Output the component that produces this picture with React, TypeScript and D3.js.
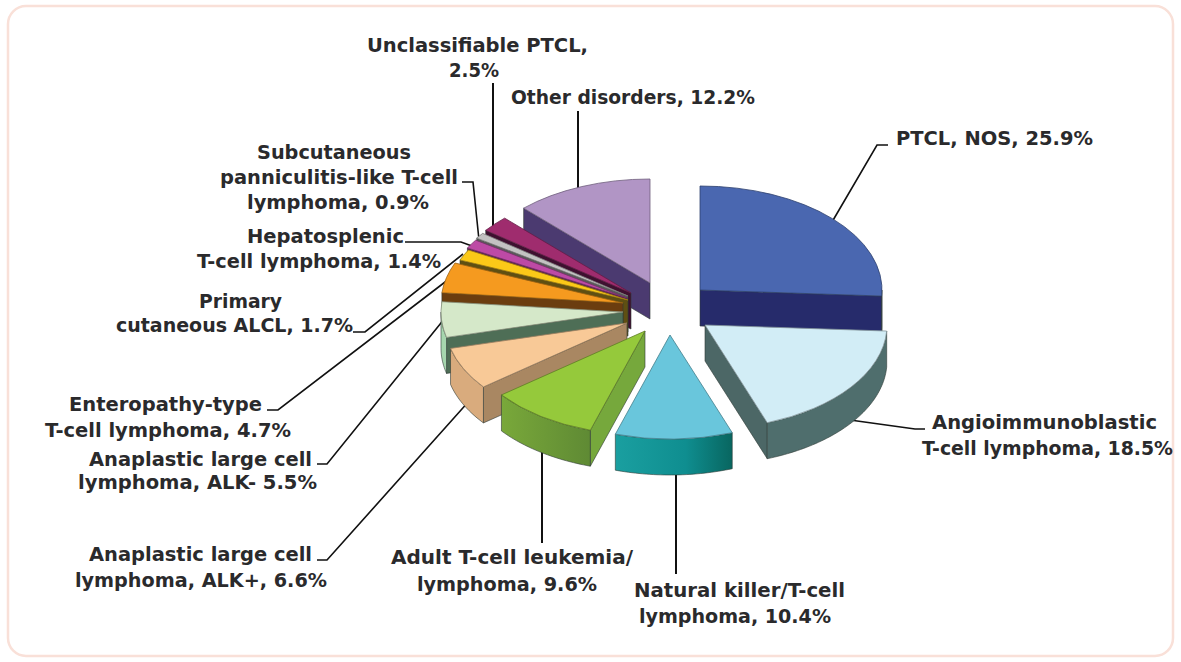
import React from "react";
import * as d3 from "d3";

// ---- data ----
const categories = [
  "PTCL, NOS",
  "Angioimmunoblastic T-cell lymphoma",
  "Natural killer/T-cell lymphoma",
  "Adult T-cell leukemia/lymphoma",
  "Anaplastic large cell lymphoma, ALK+",
  "Anaplastic large cell lymphoma, ALK-",
  "Enteropathy-type T-cell lymphoma",
  "Primary cutaneous ALCL",
  "Hepatosplenic T-cell lymphoma",
  "Subcutaneous panniculitis-like T-cell lymphoma",
  "Unclassifiable PTCL",
  "Other disorders",
];
const values = [25.9, 18.5, 10.4, 9.6, 6.6, 5.5, 4.7, 1.7, 1.4, 0.9, 2.5, 12.2];

// ---- styling ----
const topColors = ["#4a67b0", "#d2edf6", "#69c6dc", "#95c93b", "#f8c997", "#d5e8c9", "#f59a1f", "#fbc918", "#bd4aa5", "#c3c2c2", "#9f2c6e", "#b195c5"];
const wallColors = ["#262b6b", "#4f6e6d", "url(#nkWall)", "url(#atlWall)", "#d9ab7d", "#a6d6ae", "#6e3f10", "#5f4f12", "#5c1d58", "#5a5a5a", "#3f1030", "#4b3a70"];
const faceColors = ["#262b6b", "#4c6766", "#0e8a8c", "#76a83c", "#a98762", "#4e6e56", "#6b3d0f", "#5f4f12", "#5c1d58", "#5a5a5a", "#3f1030", "#4b3a70"];
// how far each slice was pulled out of the pie, from its centre
const explode: [number, number][] = [
  [60, -10], [65, 25], [30, 35], [5, 31], [-13, 23], [-17, 12], [-17, 3], [-12, 0], [-13, -2], [-12, -4], [-9, -7], [10, -17],
];
const pieCentre = { x: 640, y: 300 };
const RX = 182;
const RY = 104;
const DEPTH = 36;
const R = 100;

// text, left, baseline, width
const labelLines: [string, number, number, number][] = [
  ["Unclassifiable PTCL,", 367, 52, 221],
  ["2.5%", 449, 77, 50],
  ["Other disorders, 12.2%", 511, 104, 244],
  ["PTCL, NOS, 25.9%", 896, 145, 197],
  ["Subcutaneous", 257, 159, 154],
  ["panniculitis-like T-cell", 220, 184, 238],
  ["lymphoma, 0.9%", 247, 209, 182],
  ["Hepatosplenic", 247, 243, 157],
  ["T-cell lymphoma, 1.4%", 197, 268, 244],
  ["Primary", 199, 308, 83],
  ["cutaneous ALCL, 1.7%", 116, 332, 237],
  ["Enteropathy-type", 69, 411, 193],
  ["T-cell lymphoma, 4.7%", 45, 437, 246],
  ["Anaplastic large cell", 89, 466, 223],
  ["lymphoma, ALK- 5.5%", 78, 489, 239],
  ["Anaplastic large cell", 89, 561, 223],
  ["lymphoma, ALK+, 6.6%", 75, 587, 252],
  ["Adult T-cell leukemia/", 391, 564, 242],
  ["lymphoma, 9.6%", 417, 591, 180],
  ["Natural killer/T-cell", 634, 597, 211],
  ["lymphoma, 10.4%", 639, 623, 192],
  ["Angioimmunoblastic", 932, 429, 225],
  ["T-cell lymphoma, 18.5%", 922, 455, 251],
];

const leaders: { pts: [number, number][]; w: number }[] = [
  { pts: [[832, 222], [877, 145], [888, 145]], w: 1.6 },
  { pts: [[850, 420], [915, 429], [925, 429]], w: 1.6 },
  { pts: [[676, 470], [676, 574]], w: 2 },
  { pts: [[542, 450], [542, 543]], w: 2 },
  { pts: [[470, 400], [327, 560], [317, 560]], w: 1.6 },
  { pts: [[445, 318], [327, 464], [317, 464]], w: 1.6 },
  { pts: [[449, 279], [278, 410], [267, 410]], w: 1.6 },
  { pts: [[463, 254], [365, 332], [353, 332]], w: 1.6 },
  { pts: [[405, 242], [461, 242], [472, 246]], w: 1.6 },
  { pts: [[462, 182], [473, 182], [479, 240]], w: 1.6 },
  { pts: [[493, 83], [493, 230]], w: 2 },
  { pts: [[578, 111], [578, 195]], w: 2 },
];

const pie = d3.pie<number>().sort(null).startAngle(0).endAngle(2 * Math.PI);
const arcPath = d3.arc<d3.PieArcDatum<number>>().innerRadius(0).outerRadius(R);
const xUnit = d3.scaleLinear().domain([-1, 1]).range([-RX, RX]);
const yUnit = d3.scaleLinear().domain([-1, 1]).range([-RY, RY]);
const poly = d3.line<[number, number]>();

export default function App() {
  const slices = pie(values);
  // painter's order: far slices first, near slices over them
  const order = [11, 10, 9, 8, 7, 6, 5, 4, 3, 0, 1, 2];
  return (
    <svg width={1181} height={662} viewBox="0 0 1181 662" style={{ position: "fixed", left: 0, top: 0, background: "#fff" }}>
      <defs>
        <linearGradient id="nkWall" x1="0" x2="1" y1="0" y2="0">
          <stop offset="0" stopColor="#1a9fa0" />
          <stop offset="0.6" stopColor="#0f8e90" />
          <stop offset="1" stopColor="#086660" />
        </linearGradient>
        <linearGradient id="atlWall" x1="0" x2="1" y1="0" y2="0">
          <stop offset="0" stopColor="#79a83a" />
          <stop offset="1" stopColor="#5f8a34" />
        </linearGradient>
      </defs>
      <rect x={8} y={6} width={1165} height={650} rx={18} fill="#fff" stroke="#f9e0d8" strokeWidth={2.5} />
      {leaders.map((l, i) => (
        <path key={i} d={poly(l.pts)!} fill="none" stroke="#111" strokeWidth={l.w} />
      ))}
      {order.map((i) => {
        const s = slices[i];
        const ax = pieCentre.x + explode[i][0];
        const ay = pieCentre.y + explode[i][1];
        const pt = (a: number, dz = 0): [number, number] => [
          ax + xUnit(Math.sin(a)),
          ay + yUnit(-Math.cos(a)) + dz,
        ];
        const from = Math.max(s.startAngle, Math.PI / 2);
        const to = Math.min(s.endAngle, (3 * Math.PI) / 2);
        const edge = d3.color(topColors[i])!.darker(1.3).formatHex();
        const wallEdge = "#2f3a36";
        let wall: string | null = null;
        if (to > from) {
          const as = [...d3.range(from, to, 0.02), to];
          const outer = as.map((a) => pt(a));
          const lower = as.slice().reverse().map((a) => pt(a, DEPTH));
          wall = poly([...outer, ...lower]) + "Z";
        }
        const cutFace = (a: number) =>
          poly([[ax, ay], pt(a), pt(a, DEPTH), [ax, ay + DEPTH]]) + "Z";
        const showStart = Math.sin(s.startAngle) < 0;
        const showEnd = Math.sin(s.endAngle) > 0;
        return (
          <g key={categories[i]} strokeLinejoin="round">
            {showStart && <path d={cutFace(s.startAngle)} fill={faceColors[i]} stroke={wallEdge} strokeWidth={0.6} />}
            {showEnd && <path d={cutFace(s.endAngle)} fill={faceColors[i]} stroke={wallEdge} strokeWidth={0.6} />}
            {wall && <path d={wall} fill={wallColors[i]} stroke={wallEdge} strokeWidth={0.6} />}
            <path
              d={arcPath(s)!}
              transform={`translate(${ax},${ay}) scale(${RX / R},${RY / R})`}
              fill={topColors[i]}
              stroke={edge}
              strokeWidth={0.8}
              vectorEffect="non-scaling-stroke"
            />
          </g>
        );
      })}
      <g fontFamily="'DejaVu Sans', sans-serif" fontWeight={700} fontSize={19.5} fill="#2a2a2c">
        {labelLines.map(([t, x, y, w], i) => (
          <text key={i} x={x} y={y} textLength={w} lengthAdjust="spacingAndGlyphs">{t}</text>
        ))}
      </g>
    </svg>
  );
}
